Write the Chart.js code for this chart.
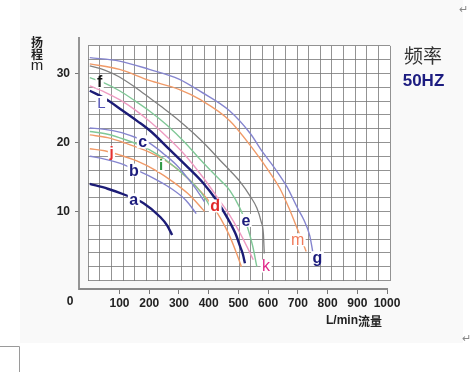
<!DOCTYPE html>
<html><head><meta charset="utf-8">
<script src="https://cdn.jsdelivr.net/npm/chart.js@4.4.1/dist/chart.umd.min.js"></script>
<style>html,body{margin:0;padding:0;background:#fff;overflow:hidden}canvas{display:block}</style>
</head><body>
<canvas id="c" width="471" height="383"></canvas>
<script>
// ---- tick labels / axis ranges ----
const xTicks = [100,200,300,400,500,600,700,800,900,1000];
const yTicks = [10,20,30];
const xMin = -5, xMax = 1010, yMin = 0, yMax = 34;
const gridCols = 26, gridRows = 17;

// ---- curves: flow (L/min) and head (m) ----
const gFlow = [0,100,200,300,372,470,540,580,620,663,700,720,740,750];
const gHead = [32.3,31.8,30.6,29.2,27.4,24.6,21.3,18.7,16.4,13.6,10.4,8.8,6.5,4.2];
const mFlow = [0,100,200,300,372,470,550,600,640,670,700,728];
const mHead = [31.4,30.6,29.0,27.7,26.2,23.2,19.0,16.0,13.3,10.5,7.3,4.2];
const eFlow = [0,50,100,156,203,250,300,350,391,439,481,506,540,562,576,584,587];
const eHead = [31.1,30.5,29.5,27.9,26.4,24.9,23.2,21.3,19.6,17.4,15.5,14.3,12.2,10.5,8.6,6.8,3.9];
const fFlow = [0,50,100,150,203,260,320,370,405,440,472,505,530,548,562];
const fHead = [29.4,28.6,27.5,26.1,24.5,22.5,20.0,17.6,16.0,14.5,13.0,10.5,7.8,5.0,2.0];
const kFlow = [0,50,100,150,203,260,320,380,430,470,500,530,550];
const kHead = [28.2,27.3,26.2,24.8,23.0,20.8,18.2,15.0,12.0,9.5,7.3,4.8,3.0];
const LFlow = [0,50,111,160,203,268,330,382,425,460,490,506,515,522];
const LHead = [27.5,26.4,24.6,23.1,21.7,19.0,16.4,14.1,11.7,9.3,6.8,4.9,3.8,2.5];
const cFlow = [0,50,100,150,201,250,290,330,360,386];
const cHead = [22.1,21.9,21.5,20.8,19.9,18.3,16.8,14.8,13.1,11.4];
const iFlow = [0,60,120,180,223,270,320,358,390,410];
const iHead = [21.6,21.2,20.4,19.4,18.4,17.0,15.2,13.6,11.8,10.3];
const dFlow = [0,60,120,200,268,330,369,410,440,470,495,510];
const dHead = [21.1,20.7,19.9,18.6,17.0,14.8,13.1,11.0,9.0,6.5,3.8,2.0];
const jFlow = [0,50,100,160,220,280,330,370,386];
const jHead = [19.1,18.8,18.2,17.3,16.0,14.3,12.6,10.8,10.0];
const bFlow = [0,50,100,167,220,268,324,358];
const bHead = [18.0,17.6,17.0,15.8,14.7,13.5,11.6,9.7];
const aFlow = [0,60,113,181,237,260,277];
const aHead = [14.0,13.3,12.5,11.2,9.2,8.0,6.6];

// ---- curve labels (text and anchor in data units) ----
const labelText = ['a','b','c','j','i','d','e','k','m','g','f','L'];
const labelFlow = [148,148,178,73,240,422,525,593,699,766,33,39];
const labelHead = [11.7,16.0,20.1,18.6,16.7,10.8,8.7,2.1,5.9,3.3,28.8,25.8];

// ---- styles ----
const PURPLE='#8585cf', ORANGE='#f09a68', GRAY='#808080', GREEN='#80c897', PINK='#ee9bc2', NAVY='#1c1c76';
const series = [
  {flow:gFlow, head:gHead, color:PURPLE, w:1.4},
  {flow:mFlow, head:mHead, color:ORANGE, w:1.4},
  {flow:eFlow, head:eHead, color:GRAY, w:1.3},
  {flow:fFlow, head:fHead, color:GREEN, w:1.4},
  {flow:kFlow, head:kHead, color:PINK, w:1.4},
  {flow:cFlow, head:cHead, color:PURPLE, w:1.4},
  {flow:iFlow, head:iHead, color:GREEN, w:1.4},
  {flow:dFlow, head:dHead, color:ORANGE, w:1.4},
  {flow:jFlow, head:jHead, color:ORANGE, w:1.4},
  {flow:bFlow, head:bHead, color:PURPLE, w:1.4},
  {flow:LFlow, head:LHead, color:NAVY, w:2.4},
  {flow:aFlow, head:aHead, color:NAVY, w:2.4}
];
const labelStyle = {
  a:{c:'#1c1c7c',b:true,s:16}, b:{c:'#1c1c7c',b:true,s:16}, c:{c:'#1c1c7c',b:true,s:16},
  j:{c:'#e53030',b:true,s:15}, i:{c:'#2f9a44',b:true,s:15}, d:{c:'#e02828',b:true,s:16},
  e:{c:'#1c1c7c',b:true,s:16}, k:{c:'#e0288a',b:false,s:16}, m:{c:'#f07a5a',b:false,s:16},
  g:{c:'#1c1c7c',b:true,s:16}, f:{c:'#111111',b:true,s:16}, L:{c:'#5050b4',b:false,s:15}
};
const FONT = "'Liberation Sans', Arial, sans-serif";
const CJK = "'Noto Sans CJK SC', sans-serif";

const datasets = series.map(s => ({
  data: s.flow.map((q, n) => ({x:q, y:s.head[n]})),
  borderColor: s.color, borderWidth: s.w, pointRadius: 0, fill: false,
  cubicInterpolationMode: 'monotone', xAxisID:'x', yAxisID:'y'
}));

const decor = {
  id:'decor',
  beforeDraw(chart){
    const c = chart.ctx, a = chart.chartArea;
    c.save();
    c.fillStyle = '#ffffff'; c.fillRect(0,0,chart.width,chart.height);
    c.fillStyle = '#f9f9f9'; c.fillRect(20,0,443,343);
    c.fillStyle = '#ffffff'; c.fillRect(a.left,a.top,a.right-a.left,a.bottom-a.top);
    c.strokeStyle = '#9a9a9a'; c.lineWidth = 1;
    c.beginPath(); c.moveTo(0,346.5); c.lineTo(19.5,346.5); c.lineTo(19.5,372); c.stroke();
    c.fillStyle = '#888'; c.font = '11px ' + FONT; c.textAlign='center'; c.textBaseline='middle';
    c.fillText('↵', 463, 10); c.fillText('↵', 466, 339);
    c.restore();
  },
  afterDatasetsDraw(chart){
    const c = chart.ctx, xs = chart.scales.x, ys = chart.scales.y;
    c.save();
    labelText.forEach((t, n) => {
      const st = labelStyle[t];
      const px = xs.getPixelForValue(labelFlow[n]), py = ys.getPixelForValue(labelHead[n]);
      c.font = (st.b ? 'bold ' : '') + st.s + 'px ' + FONT;
      const w = c.measureText(t).width;
      c.fillStyle = '#ffffff';
      c.fillRect(px - w/2 - 1.5, py - 6.5, w + 3, 13);
      c.fillStyle = st.c; c.textAlign = 'center'; c.textBaseline = 'middle';
      c.fillText(t, px, py + 1);
    });
    c.restore();
  },
  afterDraw(chart){
    const c = chart.ctx, xs = chart.scales.x, ys = chart.scales.y, a = chart.chartArea;
    const axX = ys.right, axY = xs.top;
    c.save();
    c.strokeStyle = '#8a8a8a'; c.lineWidth = 1.8;
    c.beginPath(); c.moveTo(axX, a.top - 9); c.lineTo(axX, axY); c.lineTo(xs.getPixelForValue(1000) + 1, axY); c.stroke();
    c.fillStyle = '#222'; c.textAlign = 'center'; c.textBaseline = 'middle';
    c.font = 'bold 12px ' + FONT;
    c.fillText('0', axX - 9, 302);
    c.font = 'bold 12px ' + CJK;
    c.fillText('扬', 37, 42.5); c.fillText('程', 37, 54.5);
    c.font = '15px ' + FONT;
    c.fillText('m', 37, 66);
    c.fillStyle = '#333'; c.font = '19px ' + CJK;
    c.fillText('频率', 423, 56);
    c.fillStyle = '#1c1c80'; c.font = 'bold 17px ' + FONT;
    c.fillText('50HZ', 423.5, 81.5);
    c.fillStyle = '#222'; c.font = 'bold 12px ' + FONT; c.textAlign = 'right';
    c.fillText('L/min', 358, 321);
    c.font = 'bold 12px ' + CJK; c.textAlign = 'left';
    c.fillText('流量', 358, 321);
    c.restore();
  }
};

const gridColor = 'rgba(120,120,120,0.8)';
new Chart(document.getElementById('c'), {
  type: 'line',
  data: { datasets },
  plugins: [decor],
  options: {
    responsive: false, animation: false, devicePixelRatio: 1,
    layout: { padding: { left: 0, top: 45.9, right: 81, bottom: 54 } },
    plugins: { legend: { display: false }, tooltip: { enabled: false } },
    scales: {
      gx: {
        type: 'linear', position: 'bottom', weight: 0, min: xMin, max: xMax,
        afterBuildTicks: s => { s.ticks = Array.from({length: gridCols + 1}, (_, k) => ({value: xMin + k * (xMax - xMin) / gridCols})); },
        afterFit: s => { s.height = 8.5; },
        ticks: { display: false },
        grid: { color: gridColor, lineWidth: 1, drawTicks: false },
        border: { display: false }
      },
      gy: {
        type: 'linear', position: 'left', weight: 0, min: yMin, max: yMax,
        afterBuildTicks: s => { s.ticks = Array.from({length: gridRows + 1}, (_, k) => ({value: yMin + k * (yMax - yMin) / gridRows})); },
        afterFit: s => { s.width = 9.3; },
        ticks: { display: false },
        grid: { color: gridColor, lineWidth: 1, drawTicks: false },
        border: { display: false }
      },
      x: {
        type: 'linear', position: 'bottom', weight: 1, min: xMin, max: xMax,
        afterBuildTicks: s => { s.ticks = xTicks.map(v => ({value: v})); },
        afterFit: s => { s.height = 40; },
        ticks: { color: '#222', font: { family: FONT, size: 12, weight: 'bold' }, padding: 2, maxRotation: 0, autoSkip: false, callback: v => String(v) },
        grid: { drawOnChartArea: false, tickLength: 5, color: '#777', lineWidth: 1 },
        border: { display: false }
      },
      y: {
        type: 'linear', position: 'left', weight: 1, min: yMin, max: yMax,
        afterBuildTicks: s => { s.ticks = yTicks.map(v => ({value: v})); },
        afterFit: s => { s.width = 79; },
        ticks: { color: '#222', font: { family: FONT, size: 12, weight: 'bold' }, padding: 5, callback: v => String(v) },
        grid: { drawOnChartArea: false, tickLength: 4, color: '#777', lineWidth: 1 },
        border: { display: false }
      }
    }
  }
});
</script>
</body></html>
